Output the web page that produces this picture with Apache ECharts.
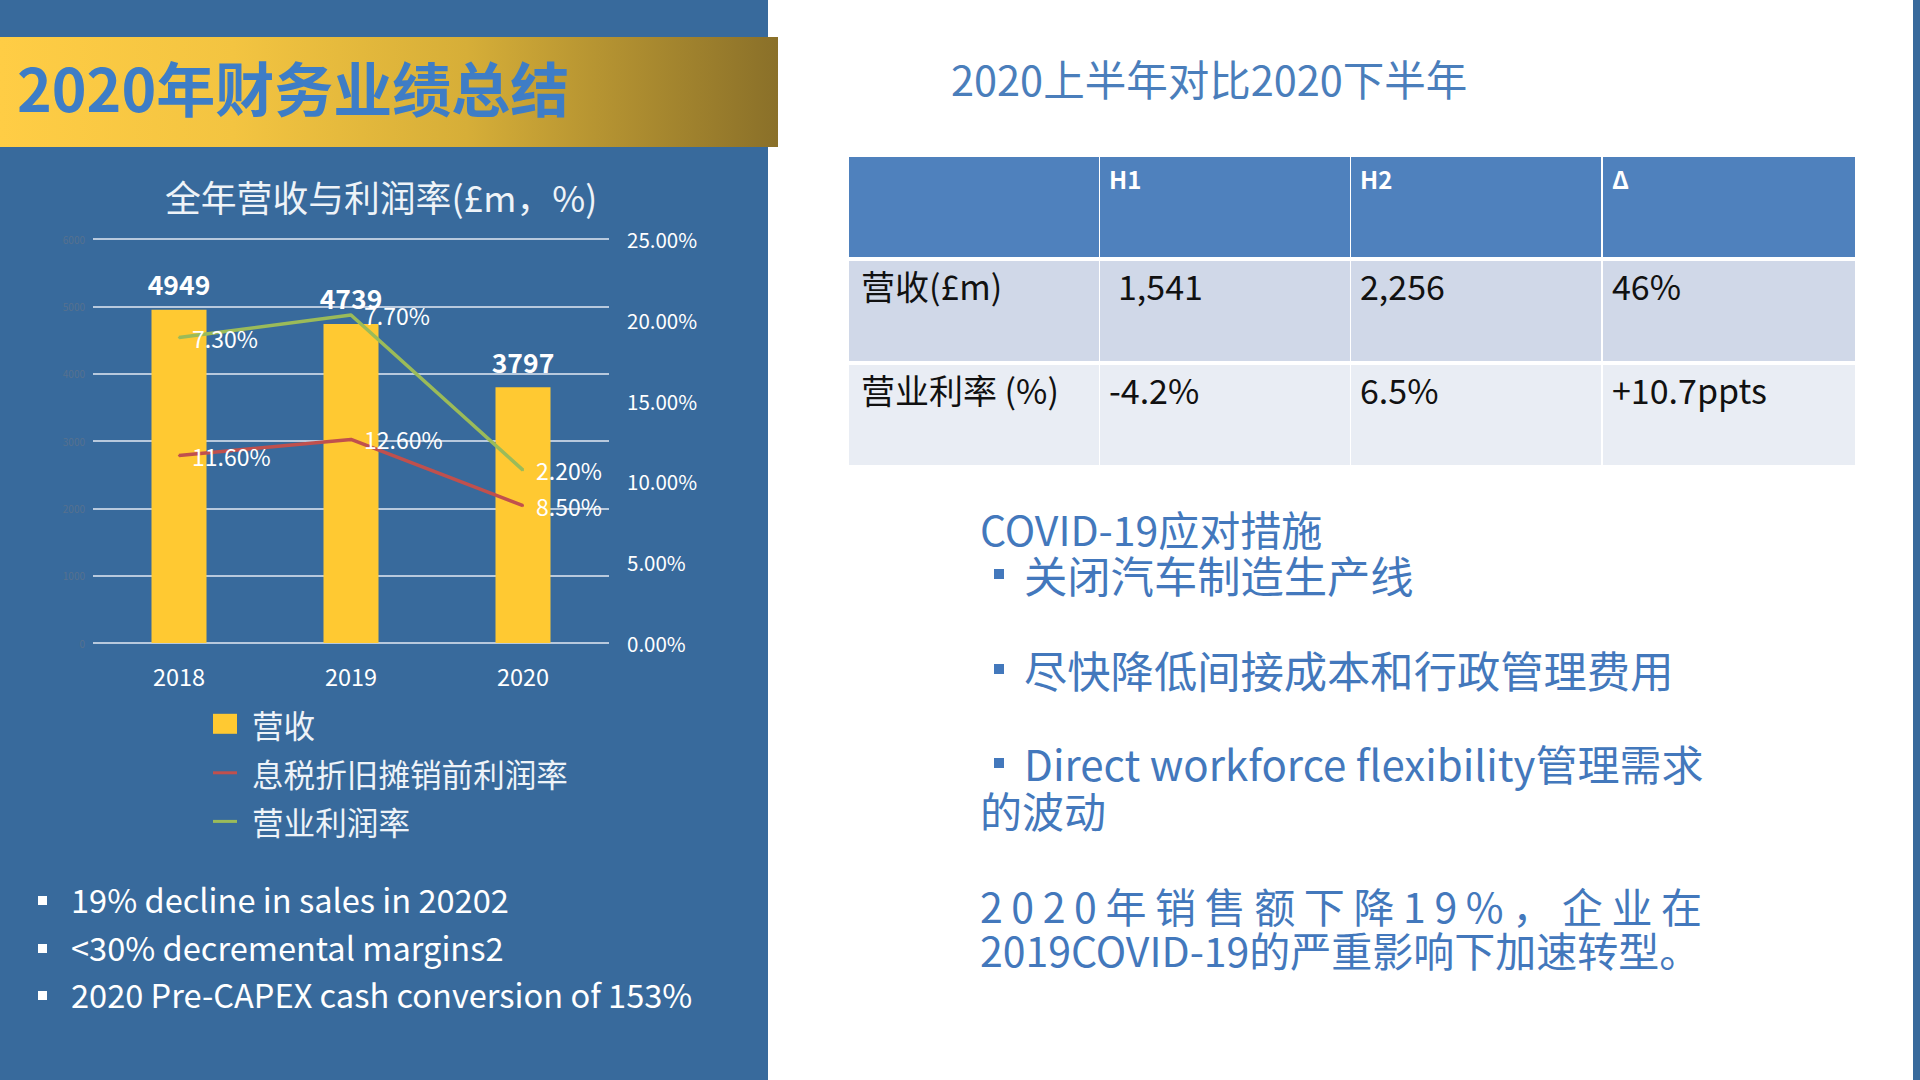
<!DOCTYPE html>
<html>
<head>
<meta charset="utf-8">
<script src="https://cdn.jsdelivr.net/npm/echarts@6/dist/echarts.min.js"></script>
<style>
html,body{margin:0;padding:0;width:1920px;height:1080px;overflow:hidden;background:#ffffff;font-family:"Noto Sans CJK SC","Noto Sans",sans-serif;}
.t{position:absolute;white-space:nowrap;}
.sq{position:absolute;}
#panel{position:absolute;left:0;top:0;width:768px;height:1080px;background:#386A9C;}
#stripe{position:absolute;left:1913px;top:0;width:7px;height:1080px;background:#386A9C;}
#banner{position:absolute;left:0;top:37px;width:778px;height:110px;background:linear-gradient(to right,#FFCD45 0%,#F3C441 30%,#D6AE38 60%,#8A7029 100%);}
#chart{position:absolute;left:0;top:0;width:768px;height:1080px;}
.cell{position:absolute;}
.mk{display:inline-block;width:10px;height:10px;background:#4378BC;vertical-align:13.5px;margin-left:14px;margin-right:20px;}
</style>
</head>
<body>
<div id="panel"></div>
<div id="stripe"></div>
<div id="banner"></div>
<div id="chart"></div>
<div id="layer"></div>
<script>
// ---------- data ----------
const years = ['2018', '2019', '2020'];
const revenue = [4949, 4739, 3797];
const ebitdaMargin = [11.6, 12.6, 8.5];
const operatingMargin = [7.3, 7.7, 2.2];
const seriesNames = ['营收', '息税折旧摊销前利润率', '营业利润率'];
const chartTitle = '全年营收与利润率(£m，%)';
const slideTitle = '2020年财务业绩总结';

const tableTitle = '2020上半年对比2020下半年';
const tableHeader = ['', 'H1', 'H2', 'Δ'];
const tableRow1 = ['营收(£m)', '1,541', '2,256', '46%'];
const tableRow2 = ['营业利率 (%)', '-4.2%', '6.5%', '+10.7ppts'];

const leftBullets = ['19% decline in sales in 20202', '<30% decremental margins2', '2020 Pre-CAPEX cash conversion of 153%'];
const covidHeading = 'COVID-19应对措施';
const covidBullets = ['关闭汽车制造生产线', '尽快降低间接成本和行政管理费用', 'Direct workforce flexibility管理需求'];
const covidWrap = '的波动';
const summaryLines = ['2020年销售额下降19%，企业在', '2019COVID-19的严重影响下加速转型。'];

const FONT = '"Noto Sans CJK SC","Noto Sans",sans-serif';
const BLUE = '#4378BC';
const layer = document.getElementById('layer');

function txt(s, x, cy, size, color, weight) {
  const d = document.createElement('div');
  d.className = 't';
  d.textContent = s;
  d.style.left = x + 'px';
  d.style.fontSize = size + 'px';
  d.style.lineHeight = (size * 1.05) + 'px';
  d.style.top = (cy - 0.605 * size) + 'px';
  d.style.color = color;
  d.style.fontWeight = weight || 'normal';
  layer.appendChild(d);
  return d;
}
// multi-line block: first line centre cy, line pitch L
function block(x, cy, L, size, color) {
  const d = document.createElement('div');
  d.className = 't';
  d.style.left = x + 'px';
  d.style.fontSize = size + 'px';
  d.style.lineHeight = L + 'px';
  d.style.top = (cy - L / 2 - 0.056 * size) + 'px';
  d.style.color = color;
  layer.appendChild(d);
  return d;
}
function addLine(parent, text, opts) {
  opts = opts || {};
  if (parent.childNodes.length) parent.appendChild(document.createElement('br'));
  if (opts.marker) {
    const m = document.createElement('span');
    m.className = 'mk';
    parent.appendChild(m);
  }
  const s = document.createElement('span');
  s.textContent = text;
  if (opts.size) s.style.fontSize = opts.size + 'px';
  parent.appendChild(s);
  return s;
}
function sq(x, cy, s, color) {
  const d = document.createElement('div');
  d.className = 'sq';
  d.style.left = x + 'px';
  d.style.top = (cy - s / 2) + 'px';
  d.style.width = s + 'px';
  d.style.height = s + 'px';
  d.style.background = color;
  layer.appendChild(d);
}
function rect(x, y, w, h, color) {
  const d = document.createElement('div');
  d.className = 'cell';
  d.style.left = x + 'px'; d.style.top = y + 'px';
  d.style.width = w + 'px'; d.style.height = h + 'px';
  d.style.background = color;
  layer.appendChild(d);
}

// slide title
txt(slideTitle, 17, 92, 59, '#3E7DC6', 'bold');

// left bullets
leftBullets.forEach((s, i) => {
  const cy = [902, 950, 997][i];
  sq(38, cy - 2, 9, '#ffffff');
  txt(s, 71, cy, 32.6, '#ffffff');
});

// right heading
txt(tableTitle, 951, 82, 41.5, '#4A7EBB');

// table
const colX = [849, 1100, 1351, 1603];
const colW = 252;
const rowY = [157, 261, 365];
const rowH = 100;
const rowBg = ['#4F81BD', '#D0D8E8', '#E9EDF4'];
[tableHeader, tableRow1, tableRow2].forEach((row, r) => {
  row.forEach((val, c) => {
    rect(colX[c], rowY[r], (c === 3 ? 1855 - colX[c] : colW - 2), rowH, rowBg[r]);
    if (val) {
      if (r === 0) txt(val, colX[c] + 9, rowY[r] + 24, 24, '#ffffff', 'bold');
      else txt(val, colX[c] + (c === 0 ? 12 : (val === '1,541' ? 18 : 9)), rowY[r] + 28, 34, '#111111');
    }
  });
});

// covid block
const bA = block(980, 530, 46, 41, BLUE);
addLine(bA, covidHeading);
addLine(bA, covidBullets[0], { marker: true, size: 43.3 });

const bM = block(980, 671, 50, 43.3, BLUE);
addLine(bM, covidBullets[1], { marker: true });

const bB = block(980, 765, 47, 42, BLUE);
addLine(bB, covidBullets[2], { marker: true });
addLine(bB, covidWrap);

const bC = block(980, 907, 44, 41, BLUE);
const l1 = addLine(bC, summaryLines[0]);
addLine(bC, summaryLines[1]);
// justify first line to the right edge
(function () {
  const target = 722;
  const w = l1.getBoundingClientRect().width;
  const n = summaryLines[0].length;
  const ls = (target - w) / (n - 1);
  if (ls > 0) l1.style.letterSpacing = ls + 'px';
})();

// ---------- chart ----------
const chart = echarts.init(document.getElementById('chart'), null, { renderer: 'svg' });
const pct = v => Number(v).toFixed(2) + '%';
const lineLabel = {
  show: true, position: 'right', distance: 12, color: '#ffffff', fontSize: 23,
  formatter: p => pct(p.value)
};
chart.setOption({
  animation: false,
  textStyle: { fontFamily: FONT },
  title: {
    text: chartTitle, left: 165, top: 178, padding: 0,
    textStyle: { fontSize: 35.8, fontWeight: 'normal', color: '#EEF3F8' }
  },
  legend: [
    {
      data: [{ name: seriesNames[0], icon: 'rect' }],
      orient: 'vertical', left: 213, top: 708, padding: 0,
      itemWidth: 24, itemHeight: 20, selectedMode: false,
      textStyle: { fontSize: 31.6, color: '#EEF3F8', padding: [0, 0, 0, 10] }
    },
    {
      data: [{ name: seriesNames[1], icon: 'rect' }, { name: seriesNames[2], icon: 'rect' }],
      orient: 'vertical', left: 213, top: 757, padding: 0, itemGap: 17,
      itemWidth: 24, itemHeight: 3, selectedMode: false,
      textStyle: { fontSize: 31.6, color: '#EEF3F8', padding: [0, 0, 0, 10] }
    }
  ],
  grid: { left: 93, top: 239, width: 516, height: 404, containLabel: false },
  xAxis: {
    type: 'category', data: years,
    axisLine: { show: false }, axisTick: { show: false },
    axisLabel: { color: '#ffffff', fontSize: 23.5, margin: 21 }
  },
  yAxis: [
    {
      type: 'value', min: 0, max: 6000, interval: 1000,
      axisLabel: { color: '#56718F', fontSize: 10, margin: 8, formatter: v => String(v) },
      splitLine: { lineStyle: { color: '#E3EAF3', width: 1.5 } },
      axisLine: { show: false }, axisTick: { show: false }
    },
    {
      type: 'value', min: 0, max: 25, interval: 5, position: 'right',
      axisLabel: { color: '#ffffff', fontSize: 20.5, margin: 18, formatter: v => pct(v) },
      splitLine: { show: false }, axisLine: { show: false }, axisTick: { show: false }
    }
  ],
  series: [
    {
      name: seriesNames[0], type: 'bar', data: revenue, barWidth: 55,
      itemStyle: { color: '#FFC932' },
      label: { show: true, position: 'top', distance: 13, color: '#ffffff', fontSize: 26.5, fontWeight: 'bold' }
    },
    {
      name: seriesNames[1], type: 'line', yAxisIndex: 1, stack: 'margin', data: ebitdaMargin,
      color: '#C0504D', lineStyle: { width: 3.5, color: '#C0504D' },
      symbol: 'circle', symbolSize: 2, itemStyle: { color: '#C0504D' },
      label: lineLabel
    },
    {
      name: seriesNames[2], type: 'line', yAxisIndex: 1, stack: 'margin', data: operatingMargin,
      color: '#9BBB59', lineStyle: { width: 3.5, color: '#9BBB59' },
      symbol: 'circle', symbolSize: 2, itemStyle: { color: '#9BBB59' },
      label: lineLabel
    }
  ]
});
</script>
</body>
</html>
